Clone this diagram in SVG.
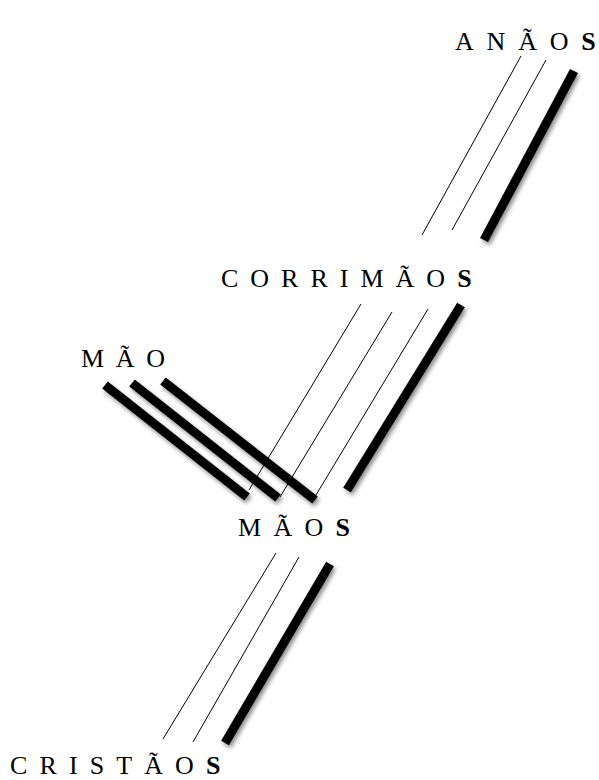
<svg xmlns="http://www.w3.org/2000/svg" width="599" height="780" viewBox="0 0 599 780">
<defs>
<filter id="sh" x="-20%" y="-20%" width="140%" height="140%">
<feDropShadow dx="2" dy="3" stdDeviation="2" flood-color="#000" flood-opacity="0.45"/>
</filter>
<style>
text{font-family:"Liberation Serif","Times New Roman",serif;font-size:26px;fill:#000}
.b{font-weight:bold;letter-spacing:0}
.thin{stroke:#000;stroke-width:1;fill:none}
.thick{stroke:#000;stroke-width:9;fill:none;stroke-linecap:butt;filter:url(#sh)}
</style>
</defs>
<rect width="599" height="780" fill="#fff"/>
<g id="connectors">
<line class="thin" x1="521" y1="56" x2="422" y2="235"/>
<line class="thin" x1="546" y1="60" x2="452" y2="230"/>
<line class="thick" x1="574" y1="71" x2="484" y2="240"/>
<line class="thin" x1="361" y1="304" x2="249" y2="490"/>
<line class="thin" x1="392" y1="312" x2="280" y2="497"/>
<line class="thin" x1="428" y1="309" x2="316" y2="495"/>
<line class="thick" x1="461" y1="305" x2="347" y2="490"/>
<line class="thick" x1="105" y1="385" x2="247" y2="497"/>
<line class="thick" x1="132" y1="383" x2="278" y2="498"/>
<line class="thick" x1="163" y1="381" x2="315" y2="500"/>
<line class="thin" x1="276" y1="553" x2="163" y2="739"/>
<line class="thin" x1="299" y1="557" x2="193" y2="742"/>
<line class="thick" x1="330" y1="564" x2="225" y2="743"/>
</g>
<g id="anaos"><text x="455" y="50" letter-spacing="12.8">ANÃO<tspan class="b">S</tspan></text></g>
<g id="corrimaos"><text x="221" y="287" letter-spacing="12">CORRIMÃO<tspan class="b">S</tspan></text></g>
<g id="mao"><text x="81" y="367" letter-spacing="11.7">MÃO</text></g>
<g id="maos"><text x="238" y="536" letter-spacing="12.3">MÃO<tspan class="b">S</tspan></text></g>
<g id="cristaos"><text x="10" y="774" letter-spacing="12.1">CRISTÃO<tspan class="b">S</tspan></text></g>
</svg>
